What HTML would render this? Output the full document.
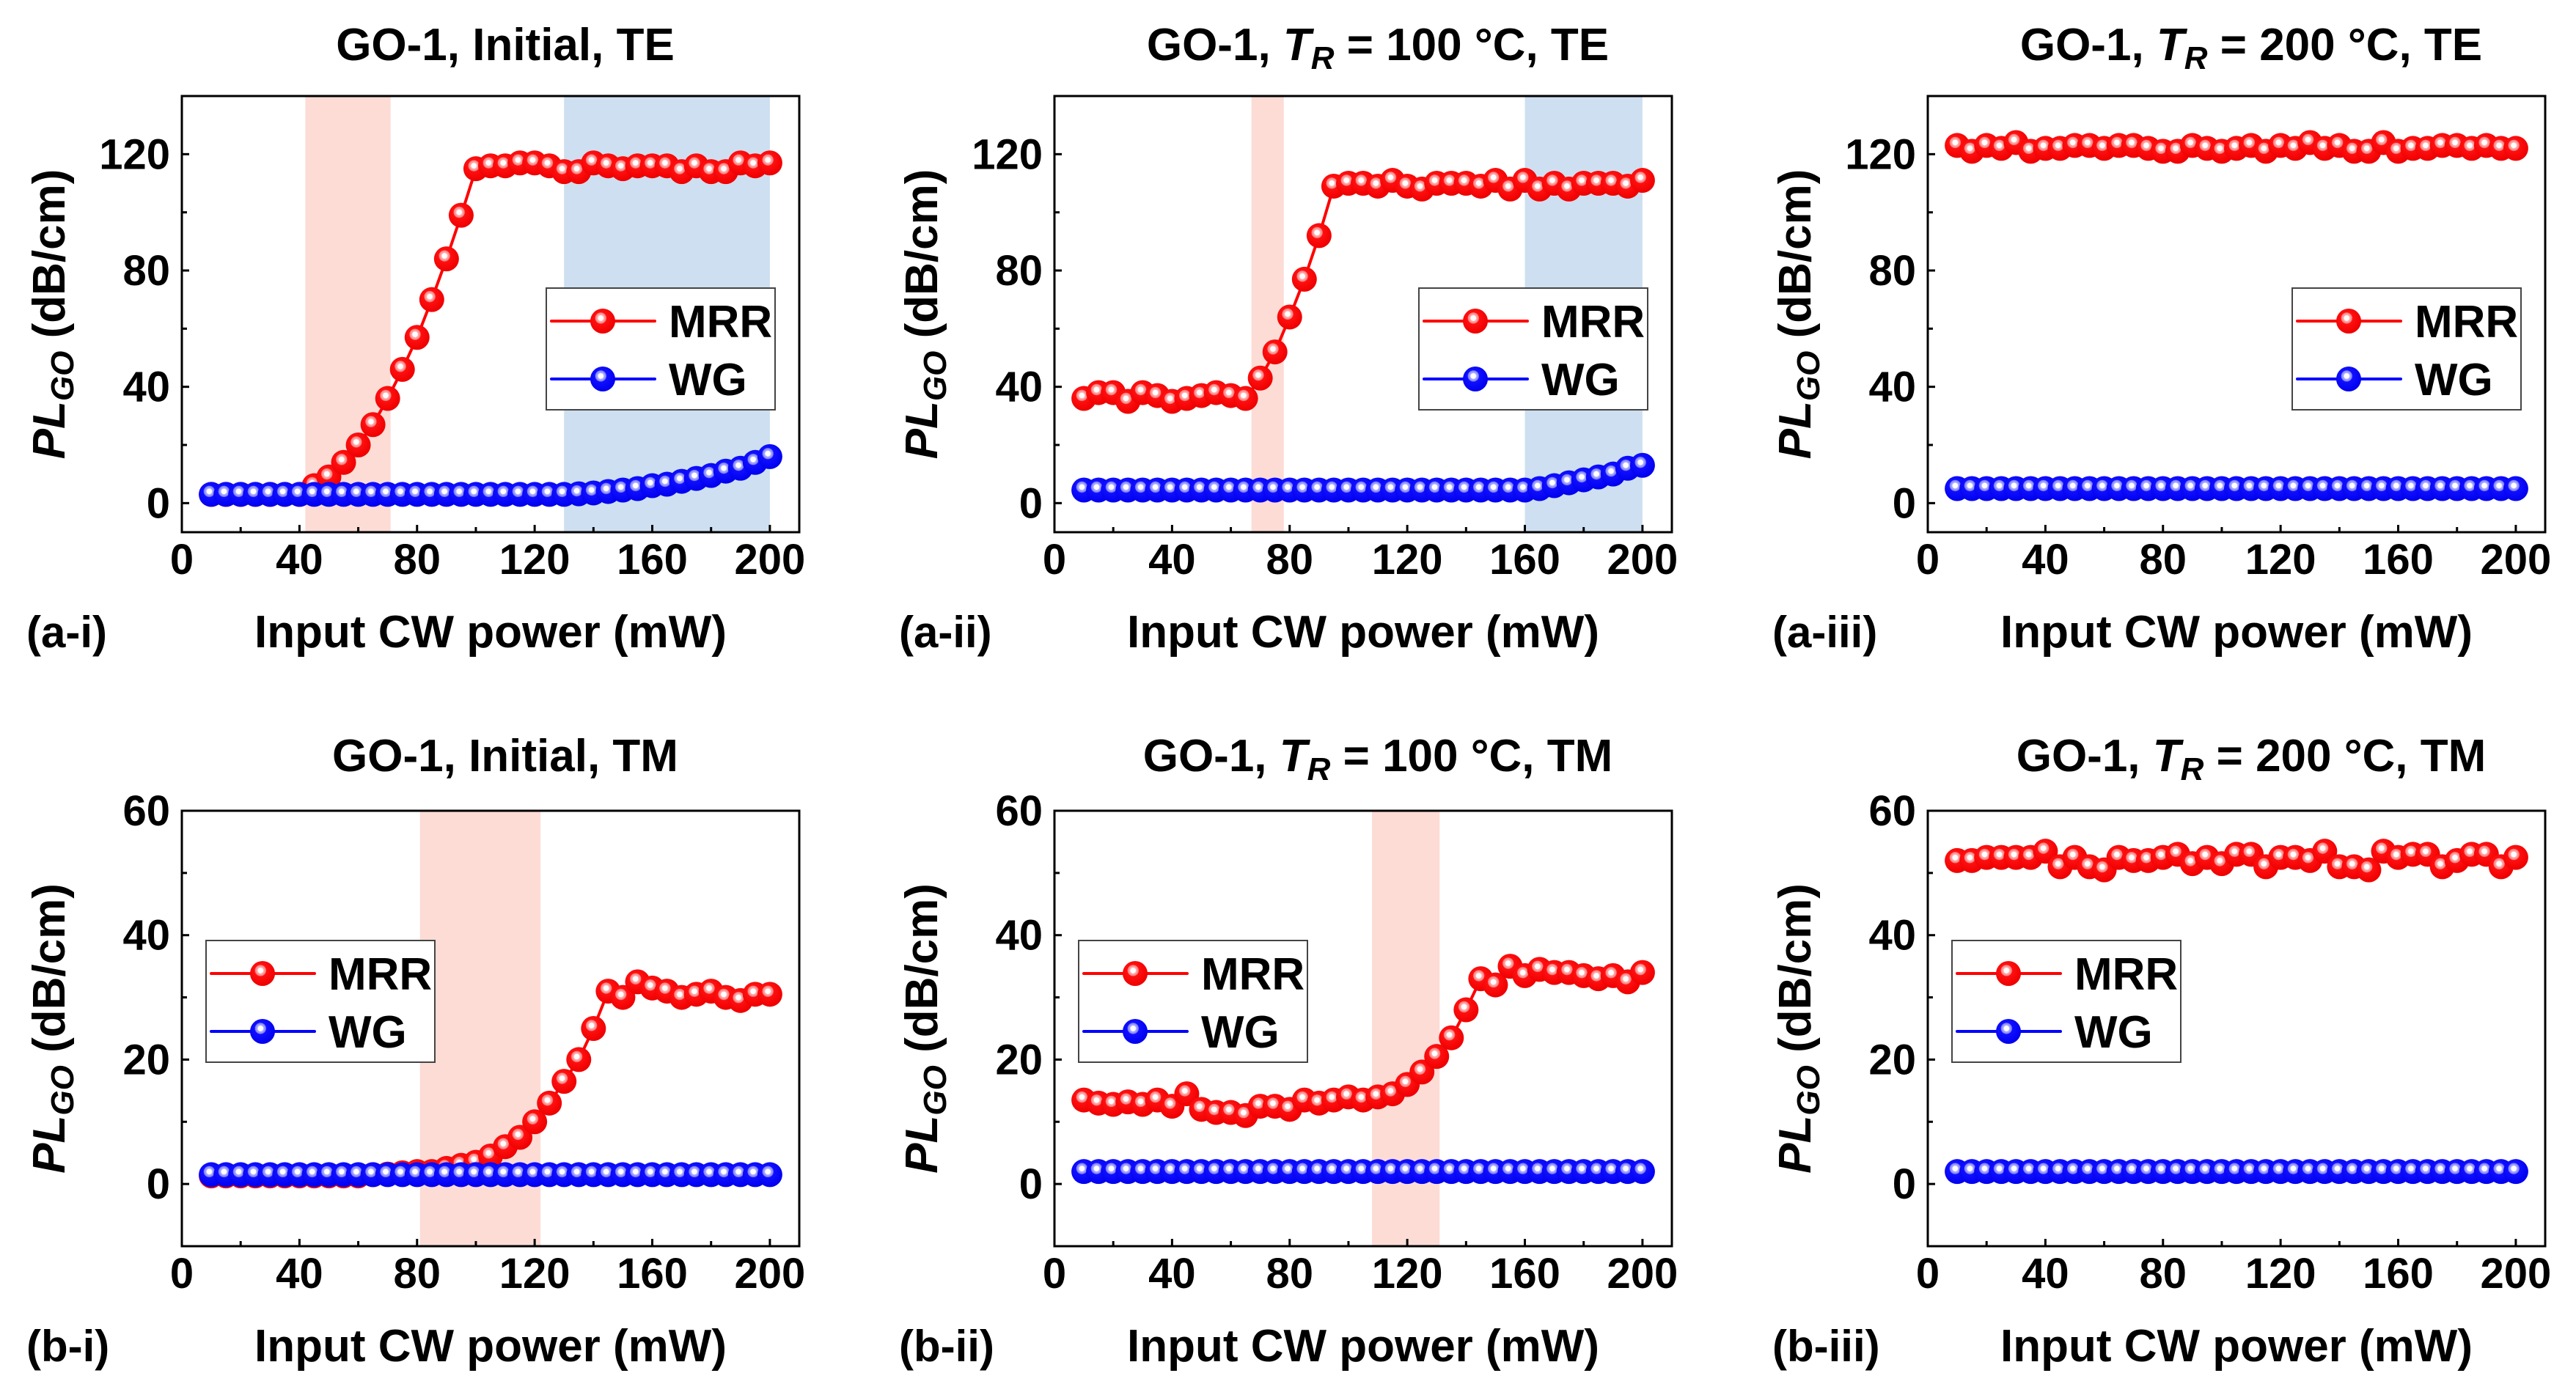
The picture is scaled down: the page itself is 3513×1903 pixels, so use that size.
<!DOCTYPE html>
<html><head><meta charset="utf-8">
<style>
html,body{margin:0;padding:0;background:#fff;}
svg{display:block;font-family:"Liberation Sans",Arial,sans-serif;font-weight:bold;}
</style></head>
<body>
<svg id="fig" width="3513" height="1903" viewBox="0 0 3513 1903" xmlns="http://www.w3.org/2000/svg">
<defs>
<radialGradient id="gRed" cx="0.42" cy="0.38" r="0.62">
<stop offset="0" stop-color="#ffffff"/><stop offset="0.16" stop-color="#ffffff"/><stop offset="0.2" stop-color="#ffb0b0"/><stop offset="0.34" stop-color="#ff8080"/><stop offset="0.38" stop-color="#ff1010"/><stop offset="1" stop-color="#ee0000"/>
</radialGradient>
<radialGradient id="gBlue" cx="0.42" cy="0.38" r="0.62">
<stop offset="0" stop-color="#ffffff"/><stop offset="0.16" stop-color="#ffffff"/><stop offset="0.2" stop-color="#b0b0ff"/><stop offset="0.34" stop-color="#8080ff"/><stop offset="0.38" stop-color="#1010ff"/><stop offset="1" stop-color="#0000ee"/>
</radialGradient>
</defs>
</svg>
<script>
// shared x values (mW)
const xPower = [10,15,20,25,30,35,40,45,50,55,60,65,70,75,80,85,90,95,100,105,110,115,120,125,130,135,140,145,150,155,160,165,170,175,180,185,190,195,200];
const xTicks = [0,40,80,120,160,200];
const yTicksTE = [0,40,80,120];
const yTicksTM = [0,20,40,60];
// a-i
const mrrAi = [3,3,3,3,3,3,3,6,9,14,20,27,36,46,57,70,84,99,115,116,116,117,117,116,114,114,117,116,115,116,116,116,114,116,114,114,117,116,117];
const wgAi  = [3,3,3,3,3,3,3,3,3,3,3,3,3,3,3,3,3,3,3,3,3,3,3,3,3,3.2,3.5,4,4.5,5,6,6.5,7.5,8.5,9.5,11,12,14,16];
// a-ii
const mrrAii = [36,38,38,35,38,37,35,36,37,38,37,36,43,52,64,77,92,109,110,110,109,111,109,108,110,110,110,109,111,108,111,108,110,108,110,110,110,109,111];
const wgAii  = [4.5,4.5,4.5,4.5,4.5,4.5,4.5,4.5,4.5,4.5,4.5,4.5,4.5,4.5,4.5,4.5,4.5,4.5,4.5,4.5,4.5,4.5,4.5,4.5,4.5,4.5,4.5,4.5,4.5,4.5,4.5,5,6,7,8,9,10,12,13];
// a-iii
const mrrAiii = [123,121,123,122,124,121,122,122,123,123,122,123,123,122,121,121,123,122,121,122,123,121,123,122,124,122,123,121,121,124,121,122,122,123,123,122,123,122,122];
const wgAiii  = [5,5,5,5,5,5,5,5,5,5,5,5,5,5,5,5,5,5,5,5,5,5,5,5,5,5,5,5,5,5,5,5,5,5,5,5,5,5,5];
// b-i
const mrrBi = [1.3,1.3,1.3,1.3,1.3,1.3,1.3,1.3,1.3,1.3,1.3,1.5,1.6,1.8,2,2,2.5,3,3.5,4.5,6,7.5,10,13,16.5,20,25,31,30,32.5,31.5,31,30,30.5,31,30,29.5,30.5,30.5];
const wgBi  = [1.5,1.5,1.5,1.5,1.5,1.5,1.5,1.5,1.5,1.5,1.5,1.5,1.5,1.5,1.5,1.5,1.5,1.5,1.5,1.5,1.5,1.5,1.5,1.5,1.5,1.5,1.5,1.5,1.5,1.5,1.5,1.5,1.5,1.5,1.5,1.5,1.5,1.5,1.5];
// b-ii
const mrrBii = [13.5,13,12.8,13.2,12.8,13.5,12.5,14.5,12,11.5,11.5,11,12.5,12.5,12,13.5,13,13.5,14,13.5,14,14.5,16,18,20.5,23.5,28,33,32,35,33.5,34.5,34,34,33.5,33,33.5,32.5,34];
const wgBii  = [2,2,2,2,2,2,2,2,2,2,2,2,2,2,2,2,2,2,2,2,2,2,2,2,2,2,2,2,2,2,2,2,2,2,2,2,2,2,2];
// b-iii
const mrrBiii = [52,52,52.5,52.5,52.5,52.5,53.5,51,52.5,51,50.5,52.5,52,52,52.5,53,51.5,52.5,51.5,53,53,51,52.5,52.5,52,53.5,51,51,50.5,53.5,52.5,53,53,51,52,53,53,51,52.5];
const wgBiii  = [2,2,2,2,2,2,2,2,2,2,2,2,2,2,2,2,2,2,2,2,2,2,2,2,2,2,2,2,2,2,2,2,2,2,2,2,2,2,2];
// shaded regions [start,end] in mW
const pinkAi = [42,71], blueAi = [130,200];
const pinkAii = [67,78], blueAii = [160,200];
const pinkBi = [81,122];
const pinkBii = [108,131];

const NS = "http://www.w3.org/2000/svg";
const svg = document.getElementById('fig');
function mk(tag, attrs, parent){
  const e = document.createElementNS(NS, tag);
  for (const k in attrs) e.setAttribute(k, attrs[k]);
  (parent||svg).appendChild(e);
  return e;
}

const panels = [
  {id:'a-i',  left:248,  top:131,  bottom:726,  ymin:-10, ymax:140, yt:yTicksTE, ym:[20,60,100], mrr:mrrAi, wg:wgAi, pink:pinkAi, blue:blueAi, title:['Initial','TE'], label:'(a-i)', legTop:true},
  {id:'a-ii', left:1438, top:131,  bottom:726,  ymin:-10, ymax:140, yt:yTicksTE, ym:[20,60,100], mrr:mrrAii, wg:wgAii, pink:pinkAii, blue:blueAii, title:['100','TE'], label:'(a-ii)', legTop:true},
  {id:'a-iii',left:2629, top:131,  bottom:726,  ymin:-10, ymax:140, yt:yTicksTE, ym:[20,60,100], mrr:mrrAiii, wg:wgAiii, pink:null, blue:null, title:['200','TE'], label:'(a-iii)', legTop:true},
  {id:'b-i',  left:248,  top:1106, bottom:1700, ymin:-10, ymax:60, yt:yTicksTM, ym:[10,30,50], mrr:mrrBi, wg:wgBi, pink:pinkBi, blue:null, title:['Initial','TM'], label:'(b-i)', legTop:false},
  {id:'b-ii', left:1438, top:1106, bottom:1700, ymin:-10, ymax:60, yt:yTicksTM, ym:[10,30,50], mrr:mrrBii, wg:wgBii, pink:pinkBii, blue:null, title:['100','TM'], label:'(b-ii)', legTop:false},
  {id:'b-iii',left:2629, top:1106, bottom:1700, ymin:-10, ymax:60, yt:yTicksTM, ym:[10,30,50], mrr:mrrBiii, wg:wgBiii, pink:null, blue:null, title:['200','TM'], label:'(b-iii)', legTop:false}
];
const W = 842, XMAX = 210;

function marker(g, cx, cy, grad, r){
  return mk('circle',{cx:cx,cy:cy,r:r,fill:'url(#'+grad+')'},g);
}

panels.forEach(p=>{
  const g = mk('g',{});
  
  
  const sx = v => p.left + v/XMAX*W;
  const sy = v => p.bottom - (v - p.ymin)/(p.ymax - p.ymin)*(p.bottom - p.top);
  if (p.pink){
    const r = mk('rect',{x:sx(p.pink[0]),y:p.top,width:sx(p.pink[1])-sx(p.pink[0]),height:p.bottom-p.top,fill:'#fddcd6'},g);
    
    
  }
  if (p.blue){
    const r = mk('rect',{x:sx(p.blue[0]),y:p.top,width:sx(p.blue[1])-sx(p.blue[0]),height:p.bottom-p.top,fill:'#cddff0'},g);
    
    
  }
  const fr = mk('rect',{x:p.left,y:p.top,width:W,height:p.bottom-p.top,fill:'none',stroke:'#000','stroke-width':3},g);
  
  
  const xg = mk('g',{},g);
  
  
  for (let v=0; v<=200; v+=20){
    const major = v%40===0;
    mk('line',{x1:sx(v),x2:sx(v),y1:p.bottom,y2:p.bottom-(major?10:7),stroke:'#000','stroke-width':3},xg);
  }
  xTicks.forEach(v=>{
    const t = mk('text',{x:sx(v),y:p.bottom+57,'text-anchor':'middle','font-size':58},xg);
    t.textContent = v;
    
    
  });
  const yg = mk('g',{},g);
  
  
  p.yt.forEach(v=>{
    mk('line',{x1:p.left,x2:p.left+10,y1:sy(v),y2:sy(v),stroke:'#000','stroke-width':3},yg);
    const t = mk('text',{x:p.left-16,y:sy(v)+20,'text-anchor':'end','font-size':58},yg);
    t.textContent = v;
    
    
  });
  p.ym.forEach(v=>{
    mk('line',{x1:p.left,x2:p.left+7,y1:sy(v),y2:sy(v),stroke:'#000','stroke-width':3},yg);
  });
  [['mrr',p.mrr,'#ff0000','gRed'],['wg',p.wg,'#0000ff','gBlue']].forEach(s=>{
    const sg = mk('g',{},g);
    
    
    const pts = xPower.map((x,i)=>sx(x).toFixed(1)+','+sy(s[1][i]).toFixed(1)).join(' ');
    mk('polyline',{points:pts,fill:'none',stroke:s[2],'stroke-width':4},sg);
    xPower.forEach((x,i)=>{
      const c = marker(sg, sx(x), sy(s[1][i]), s[3], 17);
      
      
    });
  });
  const lx = p.left + (p.legTop ? 497 : 33);
  const ly = p.legTop ? 393 : 1283;
  const lg = mk('g',{},g);
  
  
  mk('rect',{x:lx,y:ly,width:312,height:166,fill:'#fff',stroke:'#444','stroke-width':2},lg);
  [['MRR','#ff0000','gRed',45],['WG','#0000ff','gBlue',124]].forEach(e=>{
    const eg = mk('g',{},lg);
    
    
    mk('line',{x1:lx+7,x2:lx+148,y1:ly+e[3],y2:ly+e[3],stroke:e[1],'stroke-width':4,'stroke-linecap':'round'},eg);
    marker(eg, lx+77, ly+e[3], e[2], 17);
    const t = mk('text',{x:lx+167,y:ly+e[3]+22,'font-size':62},eg);
    t.textContent = e[0];
  });
  const cx = p.left + W/2 + 20;
  const ty = p.legTop ? 82 : 1052;
  const tt = mk('text',{x:cx,y:ty,'text-anchor':'middle','font-size':62},g);
  
  
  if (p.title[0]==='Initial'){
    tt.textContent = 'GO-1, Initial, ' + p.title[1];
  } else {
    const a = mk('tspan',{},tt); a.textContent = 'GO-1, ';
    const b = mk('tspan',{'font-style':'italic'},tt); b.textContent = 'T';
    const c = mk('tspan',{'font-style':'italic','font-size':44,dy:12}, tt); c.textContent = 'R';
    const d = mk('tspan',{dy:-12},tt); d.textContent = ' = ' + p.title[0] + ' °C, ' + p.title[1];
  }
  const xt = mk('text',{x:p.left+W/2,y:p.bottom+157,'text-anchor':'middle','font-size':62},g);
  xt.textContent = 'Input CW power (mW)';
  
  
  const pl = mk('text',{x:p.left-212,y:p.bottom+157,'font-size':60},g);
  pl.textContent = p.label;
  
  
  const ycy = (p.top+p.bottom)/2;
  const yx = p.left - 160;
  const yt = mk('text',{x:0,y:0,'text-anchor':'middle','font-size':62,transform:'translate('+yx+','+ycy+') rotate(-90)'},g);
  
  
  const y1 = mk('tspan',{'font-style':'italic'},yt); y1.textContent='PL';
  const y2 = mk('tspan',{'font-style':'italic','font-size':44,dy:12},yt); y2.textContent='GO';
  const y3 = mk('tspan',{dy:-12},yt); y3.textContent=' (dB/cm)';
});
</script>
</body></html>
